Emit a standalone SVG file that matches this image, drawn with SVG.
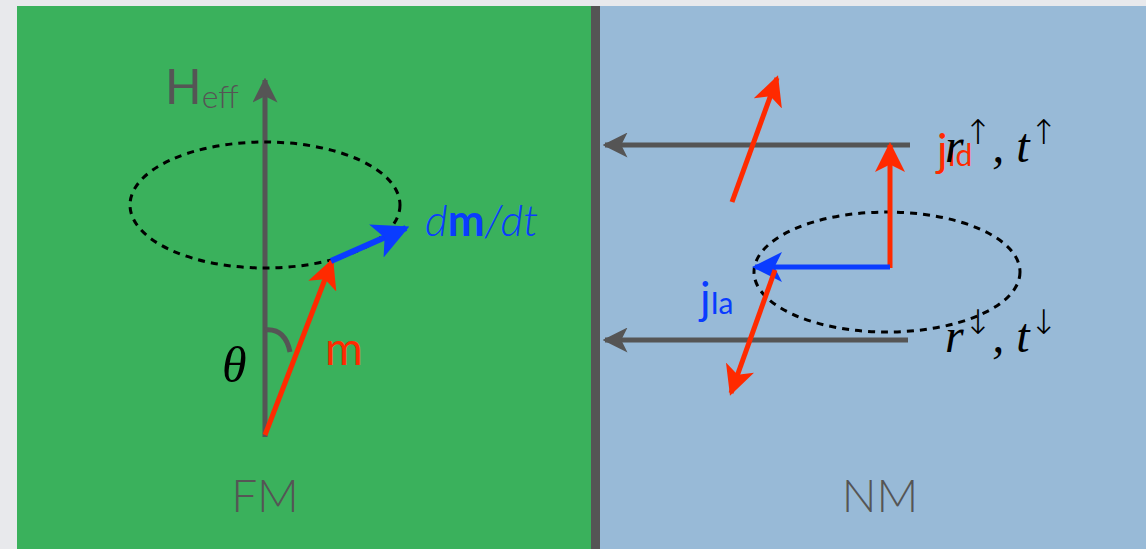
<svg xmlns="http://www.w3.org/2000/svg" width="1146" height="549" viewBox="0 0 1146 549">
<defs>
<style>
.sans{font-family:Lato,"Open Sans","Liberation Sans",sans-serif;}
.math{font-family:"Liberation Serif","DejaVu Serif",serif;font-style:italic;fill:#000;}
.arr{font-style:normal;font-family:"DejaVu Sans",sans-serif;font-weight:200;}
.dash{fill:none;stroke:#000;stroke-width:3;stroke-dasharray:7 6;}
</style>
<marker id="ag" viewBox="0 0 10 10" refX="9" refY="5" markerWidth="5" markerHeight="5" orient="auto" markerUnits="strokeWidth"><path d="M0,0 L10,5 L0,10 L2.5,5 Z" fill="#555"/></marker>
<marker id="ar" viewBox="0 0 10 10" refX="9" refY="5" markerWidth="6" markerHeight="6" orient="auto" markerUnits="strokeWidth"><path d="M0,0 L10,5 L0,10 L2.5,5 Z" fill="#ff2a00"/></marker>
<marker id="ab" viewBox="0 0 10 10" refX="9" refY="5" markerWidth="6" markerHeight="6" orient="auto" markerUnits="strokeWidth"><path d="M0,0 L10,5 L0,10 L2.5,5 Z" fill="#0a3cff"/></marker>
</defs>
<rect width="1146" height="549" fill="#e8e9ec"/>
<g id="fm">
<rect x="17" y="6" width="576" height="543" fill="#3ab15c"/>
<text class="sans" x="265" y="512" font-size="46" font-weight="300" fill="#555" text-anchor="middle">FM</text>
</g>
<g id="nm">
<rect x="599" y="6" width="547" height="543" fill="#98bad7"/>
<text class="sans" x="880" y="512" font-size="46" font-weight="300" fill="#555" text-anchor="middle">NM</text>
</g>
<rect x="591" y="6" width="9" height="543" fill="#555"/>
<g id="connectors">
<line x1="265" y1="437" x2="265" y2="80" stroke="#555" stroke-width="5" marker-end="url(#ag)"/>
<ellipse class="dash" cx="265" cy="205" rx="135" ry="63"/>
<path d="M265,330 Q285,328 290,352" fill="none" stroke="#555" stroke-width="5"/>
<line x1="265" y1="435" x2="332" y2="261" stroke="#ff2a00" stroke-width="5" marker-end="url(#ar)"/>
<line x1="331" y1="261" x2="406" y2="228" stroke="#0a3cff" stroke-width="6" marker-end="url(#ab)"/>
<line x1="910" y1="145" x2="605" y2="145" stroke="#555" stroke-width="5" marker-end="url(#ag)"/>
<line x1="908" y1="340" x2="605" y2="340" stroke="#555" stroke-width="5" marker-end="url(#ag)"/>
<ellipse class="dash" cx="887" cy="272" rx="133" ry="60"/>
<line x1="732" y1="202" x2="777" y2="78" stroke="#ff2a00" stroke-width="5" marker-end="url(#ar)"/>
<line x1="890" y1="268" x2="890" y2="145" stroke="#ff2a00" stroke-width="5" marker-end="url(#ar)"/>
<line x1="890" y1="267" x2="755" y2="267" stroke="#0a3cff" stroke-width="5" marker-end="url(#ab)"/>
<line x1="775" y1="270" x2="731" y2="393" stroke="#ff2a00" stroke-width="5" marker-end="url(#ar)"/>
</g>
<g id="labels">
<text class="sans" x="165" y="104" font-size="48" fill="#555">H<tspan font-size="32" font-weight="300" dy="4">eff</tspan></text>
<text class="sans" x="425" y="236" font-size="44" font-weight="300" fill="#0a3cff"><tspan font-style="italic">d</tspan><tspan font-weight="700">m</tspan><tspan font-style="italic">/dt</tspan></text>
<text class="math" x="222" y="382" font-size="50">θ</text>
<text class="sans" x="325" y="365" font-size="46" font-weight="400" fill="#ff2a00">m</text>
<text class="sans" x="937" y="166" font-size="44" fill="#ff2a00">j<tspan font-size="30">Id</tspan></text>
<text class="math" x="945" y="162" font-size="48">r<tspan class="arr" font-size="34" dy="-18">↑</tspan><tspan dy="18">, t</tspan><tspan class="arr" font-size="34" dy="-18">↑</tspan></text>
<text class="sans" x="700" y="314" font-size="44" fill="#0a3cff">j<tspan font-size="30">Ia</tspan></text>
<text class="math" x="945" y="352" font-size="48">r<tspan class="arr" font-size="34" dy="-18">↓</tspan><tspan dy="18">, t</tspan><tspan class="arr" font-size="34" dy="-18">↓</tspan></text>
</g>
</svg>
